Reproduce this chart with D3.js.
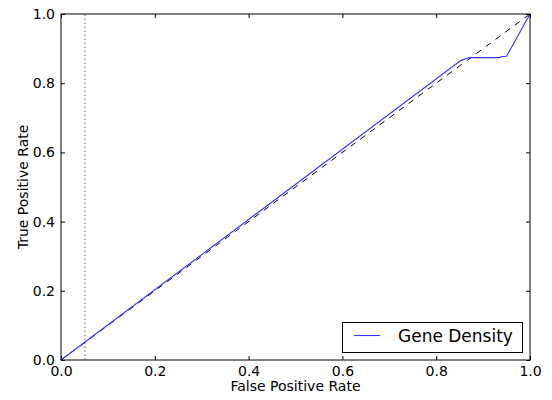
<!DOCTYPE html>
<html><head><meta charset="utf-8">
<script src="https://cdn.jsdelivr.net/npm/d3@7"></script>
<style>body{margin:0;background:#fff}svg{display:block}text{font-family:"DejaVu Sans",sans-serif}</style>
</head><body>
<svg id="c" width="552" height="400"></svg>
<script>
const fpr = [0, 0.853, 0.87, 0.935, 0.94, 0.95, 1.0];
const tpr = [0, 0.866, 0.874, 0.874, 0.877, 0.878, 1.0];
const diagX = [0, 1];
const diagY = [0, 1];
const cutoff = 0.051;
const ticks = [0, 0.2, 0.4, 0.6, 0.8, 1.0];
const seriesName = "Gene Density";

const svg = d3.select("#c");
const m = {l:61, r:530, t:14, b:360};
const x = d3.scaleLinear().domain([0,1]).range([m.l, m.r]);
const y = d3.scaleLinear().domain([0,1]).range([m.b, m.t]);

// dotted cutoff
svg.append("line").attr("x1", x(cutoff)).attr("x2", x(cutoff)).attr("y1", y(0)).attr("y2", y(1))
  .attr("stroke", "#777").attr("stroke-width", 1.2).attr("stroke-dasharray", "1.5,2.5");

const line = d3.line().x(d=>x(d[0])).y(d=>y(d[1]));
svg.append("path").datum(diagX.map((v,i)=>[v, diagY[i]])).attr("d", line)
  .attr("fill","none").attr("stroke","#000").attr("stroke-width",1).attr("stroke-dasharray","6,6");
svg.append("path").datum(fpr.map((v,i)=>[v, tpr[i]])).attr("d", line)
  .attr("fill","none").attr("stroke","#3333ff").attr("stroke-width",1.1);

// frame
svg.append("rect").attr("x", m.l).attr("y", m.t).attr("width", m.r-m.l).attr("height", m.b-m.t)
  .attr("fill","none").attr("stroke","#000").attr("stroke-width",1);

// axes with inward ticks
const fmt = d3.format(".1f");
const xb = svg.append("g").attr("transform", `translate(0,${m.b})`)
  .call(d3.axisBottom(x).tickValues(ticks).tickFormat(fmt).tickSizeInner(-4).tickSizeOuter(0).tickPadding(6));
const xt = svg.append("g").attr("transform", `translate(0,${m.t})`)
  .call(d3.axisTop(x).tickValues(ticks).tickFormat("").tickSizeInner(-4).tickSizeOuter(0));
const yl = svg.append("g").attr("transform", `translate(${m.l},0)`)
  .call(d3.axisLeft(y).tickValues(ticks).tickFormat(fmt).tickSizeInner(-4).tickSizeOuter(0).tickPadding(6));
const yr = svg.append("g").attr("transform", `translate(${m.r},0)`)
  .call(d3.axisRight(y).tickValues(ticks).tickFormat("").tickSizeInner(-4).tickSizeOuter(0));
[xb,xt,yl,yr].forEach(g=>{ g.select(".domain").remove(); g.selectAll("text").attr("font-size",14).attr("fill","#000").attr("font-family","DejaVu Sans"); g.selectAll("line").attr("stroke","#000"); });

svg.append("text").attr("x", (m.l+m.r)/2).attr("y", 391).attr("text-anchor","middle").attr("font-size",14).text("False Positive Rate");
svg.append("text").attr("transform", `translate(28,${(m.t+m.b)/2}) rotate(-90)`).attr("text-anchor","middle").attr("font-size",14).text("True Positive Rate");

// legend
const lg = svg.append("g");
lg.append("rect").attr("x",342.5).attr("y",322.5).attr("width",180).attr("height",30).attr("fill","#fff").attr("stroke","#000").attr("stroke-width",1);
lg.append("line").attr("x1",354).attr("x2",380).attr("y1",335.5).attr("y2",335.5).attr("stroke","#3333ff").attr("stroke-width",1.1);
lg.append("text").attr("x",398).attr("y",342).attr("font-size",17).text(seriesName);
</script>
</body></html>
